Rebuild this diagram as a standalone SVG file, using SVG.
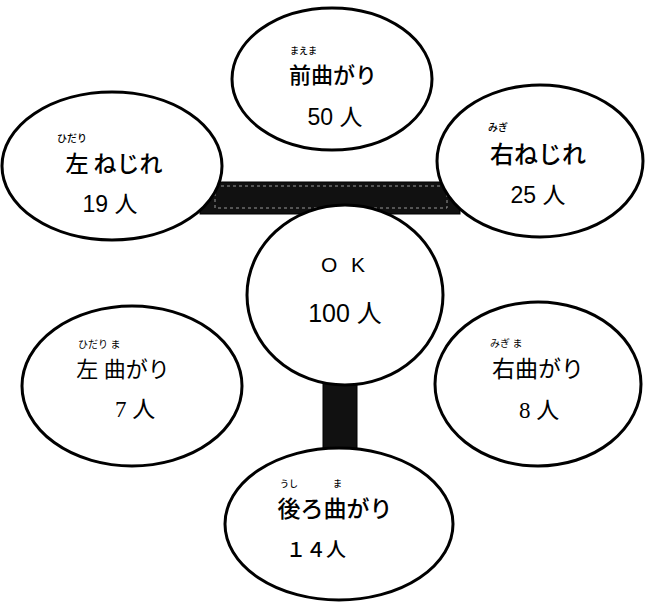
<svg xmlns="http://www.w3.org/2000/svg" width="652" height="605" viewBox="0 0 652 605">
<style>
.n{fill:#fff;stroke:#000;stroke-width:3}
.g{font-family:"Noto Sans CJK JP","Liberation Sans",sans-serif;fill:#000;font-weight:500}
.s{font-family:"Liberation Serif","Noto Sans CJK JP",serif;fill:#000;font-weight:normal}
.d{font-family:"Liberation Sans","Noto Sans CJK JP",sans-serif;fill:#000}
.r{font-size:9px}
.m{text-anchor:middle}
.bar{fill:#111;stroke:#000;stroke-width:1}
.tex{fill:none;stroke:#999;stroke-width:1;stroke-dasharray:3 3}
</style>
<rect width="652" height="605" fill="#fff"/>
<g id="connectors">
<rect class="bar" x="200" y="182" width="260" height="32"/>
<rect class="tex" x="215" y="186" width="232" height="22"/>
<rect class="bar" x="323" y="370" width="34" height="85"/>
</g>
<g id="front-bend">
<ellipse class="n" cx="332" cy="79" rx="100" ry="71"/>
<text class="g r" x="290" y="54">まえま</text>
<text class="g m" x="333" y="83" font-size="22">前曲がり</text>
<text class="d m" x="335" y="125" font-size="23">50 人</text>
</g>
<g id="left-twist">
<ellipse class="n" cx="112" cy="166" rx="110" ry="74"/>
<text class="g" x="57" y="142" font-size="10">ひだり</text>
<text class="g m" x="114" y="172" font-size="23">左 ねじれ</text>
<text class="d m" x="110" y="212" font-size="23">19 人</text>
</g>
<g id="right-twist">
<ellipse class="n" cx="540" cy="161" rx="103" ry="76"/>
<text class="g" x="488" y="131" font-size="10">みぎ</text>
<text class="g m" x="538" y="163" font-size="24">右ねじれ</text>
<text class="d m" x="538" y="203" font-size="23">25 人</text>
</g>
<g id="ok">
<ellipse class="n" cx="345" cy="295" rx="98" ry="90"/>
<text class="d m" x="345" y="272" font-size="21" letter-spacing="4">O K</text>
<text class="d m" x="345" y="322" font-size="25">100 人</text>
</g>
<g id="left-bend">
<ellipse class="n" cx="132" cy="386" rx="110" ry="80"/>
<text class="s" x="78" y="348" font-size="10">ひだり ま</text>
<text class="s m" x="123" y="377" font-size="22">左 曲がり</text>
<text class="s m" x="135" y="417" font-size="23">7 人</text>
</g>
<g id="right-bend">
<ellipse class="n" cx="538" cy="384" rx="103" ry="82"/>
<text class="s" x="490" y="347" font-size="10">みぎ ま</text>
<text class="s m" x="538" y="377" font-size="23">右曲がり</text>
<text class="s m" x="539" y="418" font-size="23">8 人</text>
</g>
<g id="back-bend">
<ellipse class="n" cx="339" cy="524" rx="114" ry="76"/>
<text class="g r" x="280" y="487">うし</text>
<text class="g r" x="333" y="487">ま</text>
<text class="g m" x="335" y="517" font-size="23">後ろ曲がり</text>
<text class="g m" x="316" y="557" font-size="20">１４人</text>
</g>
</svg>
